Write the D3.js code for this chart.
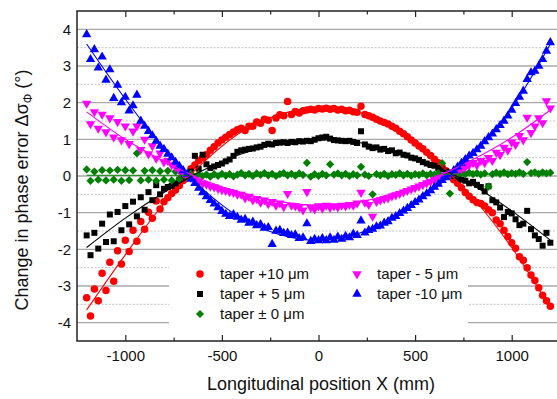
<!DOCTYPE html>
<html>
<head>
<meta charset="utf-8">
<script src="https://cdn.jsdelivr.net/npm/d3@7"></script>
<style>
  body { margin: 0; background: #fff; }
  svg { display: block; font-family: "Liberation Sans", Arial, sans-serif; }
</style>
</head>
<body>
<svg id="chart" width="557" height="399"></svg>
<script>
// measurement positions (mm)
const xPos = [-1200,-1180,-1160,-1140,-1120,-1100,-1080,-1060,-1040,-1020,-1000,-980,-960,-940,-920,-900,-880,-860,-840,-820,
  -800,-780,-760,-740,-720,-700,-680,-660,-640,-620,-600,-580,-560,-540,-520,-500,-480,-460,-440,-420,
  -400,-380,-360,-340,-320,-300,-280,-260,-240,-220,-200,-180,-160,-140,-120,-100,-80,-60,-40,-20,
  0,20,40,60,80,100,120,140,160,180,200,220,240,260,280,300,320,340,360,380,
  400,420,440,460,480,500,520,540,560,580,600,620,640,660,680,700,720,740,760,780,
  800,820,840,860,880,900,920,940,960,980,1000,1020,1040,1060,1080,1100,1120,1140,1160,1180,1200];

// change in phase error (deg)
const taperP10 = [-3.32,-3.82,-3.08,-3.40,-2.65,-3.12,-2.35,-2.87,-2.04,-2.40,-1.75,-2.06,-1.48,-1.78,-1.24,-1.45,-0.99,-1.15,-0.68,-0.90,
  -0.70,-0.59,-0.48,-0.38,-0.26,-0.12,0.05,0.20,0.30,0.42,0.50,0.58,0.70,0.80,0.90,0.98,1.06,1.13,1.20,1.26,
  1.30,1.24,1.36,1.36,1.47,1.44,1.55,1.52,1.24,1.58,1.67,1.64,2.03,1.68,1.76,1.72,1.78,1.80,1.82,1.80,
  1.84,1.83,1.85,1.82,1.84,1.80,1.82,1.78,1.79,1.75,1.74,1.90,1.68,1.64,1.60,1.55,1.50,1.46,1.42,1.36,
  1.30,1.22,1.15,1.07,0.98,0.90,0.82,0.74,0.65,0.56,0.46,0.36,0.25,0.14,0.02,-0.10,-0.20,-0.32,-0.45,-0.55,
  -0.65,-0.72,-0.75,-0.82,-0.92,-1.00,-1.20,-1.30,-1.48,-1.65,-1.82,-1.97,-2.20,-2.30,-2.50,-2.70,-2.85,-3.05,-3.25,-3.40,-3.55];
const taperP5 = [-1.62,-2.16,-1.55,-1.98,-1.30,-1.80,-1.05,-1.78,-0.98,-1.48,-0.82,-1.32,-0.70,-1.10,-0.58,-0.92,-0.44,-0.66,-0.25,-0.50,
  -0.35,-0.30,-0.27,-0.20,-0.10,-0.02,0.05,0.12,0.55,0.20,0.58,0.32,0.22,0.26,0.30,0.34,0.40,0.45,0.55,0.66,
  0.70,0.72,0.74,0.75,0.78,0.80,0.85,0.88,0.86,0.90,0.91,0.92,0.90,0.93,0.92,0.95,0.94,0.96,0.95,0.99,
  1.03,1.05,1.07,1.02,0.98,0.97,0.96,0.95,0.96,0.93,0.90,1.22,0.86,0.80,0.76,0.78,0.72,0.74,0.68,0.70,
  0.62,0.64,0.58,0.56,0.50,0.48,0.44,0.38,0.34,0.30,0.28,0.22,0.18,0.12,0.06,0.00,-0.05,-0.10,-0.13,-0.20,
  -0.16,-0.24,-0.30,-0.42,-0.28,-0.66,-0.72,-0.86,-1.12,-0.98,-1.02,-1.18,-1.34,-1.30,-0.95,-1.45,-1.62,-1.72,-1.90,-1.55,-1.82];
const taper0 = [0.18,-0.13,0.12,-0.10,0.16,-0.12,0.15,-0.10,0.17,-0.13,0.16,-0.11,0.15,0.62,-0.12,0.14,-0.10,0.16,-0.13,0.13,
  -0.10,0.14,-0.12,0.12,-0.08,0.10,-0.05,0.06,-0.02,0.05,0.00,0.04,-0.02,0.05,0.00,0.06,0.01,0.05,-0.01,0.04,
  0.08,0.02,0.06,0.00,0.07,0.03,0.08,0.02,0.06,0.00,0.05,0.08,0.02,0.06,0.01,0.07,0.03,0.36,-0.02,0.05,
  0.00,0.06,0.02,0.32,0.04,0.07,0.02,0.06,0.00,0.05,0.02,0.25,0.04,0.00,-0.50,0.05,0.02,0.06,0.00,0.05,
  0.03,0.07,0.02,0.06,0.01,0.05,0.03,0.07,0.02,0.06,0.04,0.08,0.35,0.03,-0.48,0.06,0.04,0.08,0.05,0.09,
  0.05,0.08,0.04,0.07,-0.29,0.05,0.09,0.06,0.10,0.05,0.08,0.06,0.10,0.06,0.38,0.08,0.10,0.06,0.10,0.07,0.09];
const taperM5 = [1.98,1.42,1.75,1.30,1.68,1.20,1.58,1.06,1.48,0.98,1.36,0.88,1.22,1.36,0.72,1.00,0.60,0.82,0.48,0.62,
  0.38,0.42,0.30,0.25,0.15,0.08,0.00,-0.05,-0.10,-0.15,-0.20,-0.23,-0.28,-0.30,-0.34,-0.38,-0.40,-0.43,-0.45,-0.50,
  -0.50,-0.60,-0.56,-0.66,-0.62,-0.72,-0.66,-0.76,-0.70,-0.80,-0.74,-0.84,-0.48,-0.80,-0.82,-0.85,-0.93,-0.43,-0.86,-0.90,
  -0.82,-0.88,-0.80,-0.86,-0.82,-0.85,-0.80,-0.82,-0.78,-0.80,-0.74,-0.45,-0.72,-0.78,-1.10,-0.70,-0.66,-0.62,-0.60,-0.55,
  -0.52,-0.48,-0.44,-0.40,-0.36,-0.32,-0.28,-0.24,-0.19,-0.15,-0.10,-0.06,-0.02,0.03,0.07,0.11,0.15,0.19,0.24,0.30,
  0.36,0.30,0.42,0.36,0.50,0.42,0.64,0.58,0.78,0.70,0.92,0.86,1.10,0.98,1.60,1.18,1.36,1.58,1.45,2.05,1.85];
const taperM10 = [3.86,3.18,3.45,2.95,3.25,2.62,2.90,2.12,2.48,2.00,2.15,1.78,1.92,2.21,1.50,1.36,1.22,1.10,0.95,0.82,
  0.73,0.60,0.50,0.38,0.27,0.15,0.05,-0.08,-0.20,-0.33,-0.45,-0.56,-0.66,-0.76,-0.86,-0.96,-1.04,-1.10,-1.05,-1.12,
  -1.20,-1.18,-1.28,-1.25,-1.35,-1.32,-1.42,-1.40,-1.86,-1.50,-1.48,-1.56,-1.55,-1.62,-1.60,-1.70,-1.68,-1.30,-1.78,-1.72,
  -1.76,-1.70,-1.76,-1.68,-1.75,-1.66,-1.72,-1.64,-1.68,-1.58,-1.62,-1.22,-1.55,-1.48,-1.45,-1.38,-1.36,-1.28,-1.24,-1.15,
  -1.10,-1.02,-0.95,-0.88,-0.80,-0.72,-0.65,-0.56,-0.48,-0.40,-0.30,-0.22,-0.12,-0.04,0.05,0.15,0.25,0.35,0.45,0.55,
  0.62,0.72,0.82,0.94,1.05,1.15,1.27,1.38,1.50,1.64,1.80,1.98,2.15,2.32,2.64,2.82,2.86,3.00,3.18,3.41,3.64];

// fitted curves
const fitX = [-1200,-1000,-800,-600,-400,-200,0,200,400,600,800,1000,1200];
const fitP10 = [-3.65,-2.15,-0.75,0.35,1.20,1.68,1.85,1.75,1.30,0.45,-0.60,-1.95,-3.60];
const fitP5 = [-1.95,-1.15,-0.45,0.15,0.60,0.88,0.98,0.92,0.68,0.28,-0.25,-0.95,-1.75];
const fit0 = [0.02,0.02,0.02,0.02,0.03,0.03,0.03,0.04,0.04,0.05,0.05,0.06,0.07];
const fitM5 = [1.75,1.00,0.40,-0.10,-0.45,-0.70,-0.80,-0.72,-0.45,-0.05,0.45,1.05,1.80];
const fitM10 = [3.60,2.10,0.75,-0.35,-1.15,-1.60,-1.75,-1.58,-1.10,-0.35,0.60,1.85,3.60];

const seriesNames = ["taper +10 \u03bcm", "taper + 5 \u03bcm", "taper \u00b1 0 \u03bcm", "taper - 5 \u03bcm", "taper -10 \u03bcm"];
const xTicks = [-1000, -500, 0, 500, 1000];
const xMinor = [-750, -250, 250, 750];
const yTicks = [-4, -3, -2, -1, 0, 1, 2, 3, 4];
const yMinor = [-3.5, -2.5, -1.5, -0.5, 0.5, 1.5, 2.5, 3.5];

// diamond = square turned 45 degrees
const series = [
  { name: seriesNames[0], values: taperP10, fit: fitP10, color: "#ff0000", shape: d3.symbolCircle, size: 44, rot: 0 },
  { name: seriesNames[1], values: taperP5, fit: fitP5, color: "#000000", shape: d3.symbolSquare, size: 36, rot: 0 },
  { name: seriesNames[2], values: taper0, fit: fit0, color: "#008000", shape: d3.symbolSquare, size: 34, rot: 45 },
  { name: seriesNames[3], values: taperM5, fit: fitM5, color: "#ff00ff", shape: d3.symbolTriangle, size: 38, rot: 180 },
  { name: seriesNames[4], values: taperM10, fit: fitM10, color: "#0000ff", shape: d3.symbolTriangle, size: 38, rot: 0 }
];

const margin = { left: 77, top: 11 };
const width = 483, height = 330;

const svg = d3.select("#chart");
const g = svg.append("g").attr("transform", "translate(" + margin.left + "," + margin.top + ")");

const x = d3.scaleLinear().domain([-1250, 1250]).range([0, width]);
const y = d3.scaleLinear().domain([-4.5, 4.5]).range([height, 0]);

svg.append("defs").append("clipPath").attr("id", "plot")
  .append("rect").attr("width", width).attr("height", height);

// grid
g.selectAll(".minor").data(yMinor).enter().append("line")
  .attr("x1", 0).attr("x2", width)
  .attr("y1", d => y(d)).attr("y2", d => y(d))
  .attr("stroke", "#c4c4c4").attr("stroke-width", 1).attr("stroke-dasharray", "2,1.5");
g.selectAll(".major").data(yTicks).enter().append("line")
  .attr("x1", 0).attr("x2", width)
  .attr("y1", d => y(d)).attr("y2", d => y(d))
  .attr("stroke", "#a8a8a8").attr("stroke-width", 1.3);

// markers
const plot = g.append("g").attr("clip-path", "url(#plot)");
series.forEach(s => {
  plot.append("g").selectAll("path").data(s.values).enter().append("path")
    .attr("d", d3.symbol().type(s.shape).size(s.size))
    .attr("transform", (d, i) => "translate(" + x(xPos[i]) + "," + y(d) + ") rotate(" + s.rot + ")")
    .attr("fill", s.color);
});

// fit curves
const line = d3.line().x((d, i) => x(fitX[i])).y(d => y(d)).curve(d3.curveCatmullRom);
series.forEach(s => {
  plot.append("path").datum(s.fit)
    .attr("d", line)
    .attr("fill", "none")
    .attr("stroke", s.color)
    .attr("stroke-width", 1.1);
});

// legend
g.append("rect")
  .attr("x", 92).attr("y", 246).attr("width", 299).attr("height", height - 246)
  .attr("fill", "#fff");
const legend = g.append("g").attr("font-size", "15px");
series.forEach((s, i) => {
  const col = i < 3 ? 0 : 1;
  const row = i < 3 ? i : i - 3;
  const lx = col === 0 ? 123 : 280;
  const ly = 263 + row * 20;
  legend.append("path")
    .attr("d", d3.symbol().type(s.shape).size(s.size))
    .attr("transform", "translate(" + lx + "," + ly + ") rotate(" + s.rot + ")")
    .attr("fill", s.color);
  legend.append("text")
    .attr("x", lx + 20).attr("y", ly + 5)
    .attr("fill", "#111")
    .text(s.name);
});

// axes and frame
const fmt = d => String(d);
g.append("g").attr("transform", "translate(0," + height + ")")
  .call(d3.axisBottom(x).tickValues(xTicks).tickSize(-6).tickPadding(9).tickFormat(fmt))
  .call(a => a.select(".domain").remove());
g.append("g").attr("transform", "translate(0," + height + ")")
  .call(d3.axisBottom(x).tickValues(xMinor).tickSize(-3.5).tickFormat(""))
  .call(a => a.select(".domain").remove());
g.append("g")
  .call(d3.axisTop(x).tickValues(xTicks).tickSize(-6).tickFormat(""))
  .call(a => a.select(".domain").remove());
g.append("g")
  .call(d3.axisTop(x).tickValues(xMinor).tickSize(-3.5).tickFormat(""))
  .call(a => a.select(".domain").remove());
g.append("g")
  .call(d3.axisLeft(y).tickValues(yTicks).tickSize(0).tickPadding(6).tickFormat(fmt))
  .call(a => a.select(".domain").remove());

g.selectAll(".tick text").attr("font-size", "15px").attr("font-family", "Liberation Sans, Arial, sans-serif").attr("fill", "#111");
g.selectAll(".tick line").attr("stroke", "#222").attr("stroke-width", 1.2);

g.append("path")
  .attr("d", "M" + (width + 5) + ",0H0V" + height + "H" + (width + 5))
  .attr("fill", "none").attr("stroke", "#222").attr("stroke-width", 1.5);

// axis titles
svg.append("text")
  .attr("x", 321).attr("y", 390)
  .attr("text-anchor", "middle").attr("font-size", "18px").attr("fill", "#111")
  .text("Longitudinal position X (mm)");

const yl = svg.append("text")
  .attr("transform", "translate(28,190) rotate(-90)")
  .attr("text-anchor", "middle").attr("font-size", "18px").attr("fill", "#111");
yl.append("tspan").text("Change in phase error \u0394\u03c3");
yl.append("tspan").attr("font-size", "12px").attr("dy", 4).text("\u03a6");
yl.append("tspan").attr("dy", -4).text(" (\u00b0)");
</script>
</body>
</html>
